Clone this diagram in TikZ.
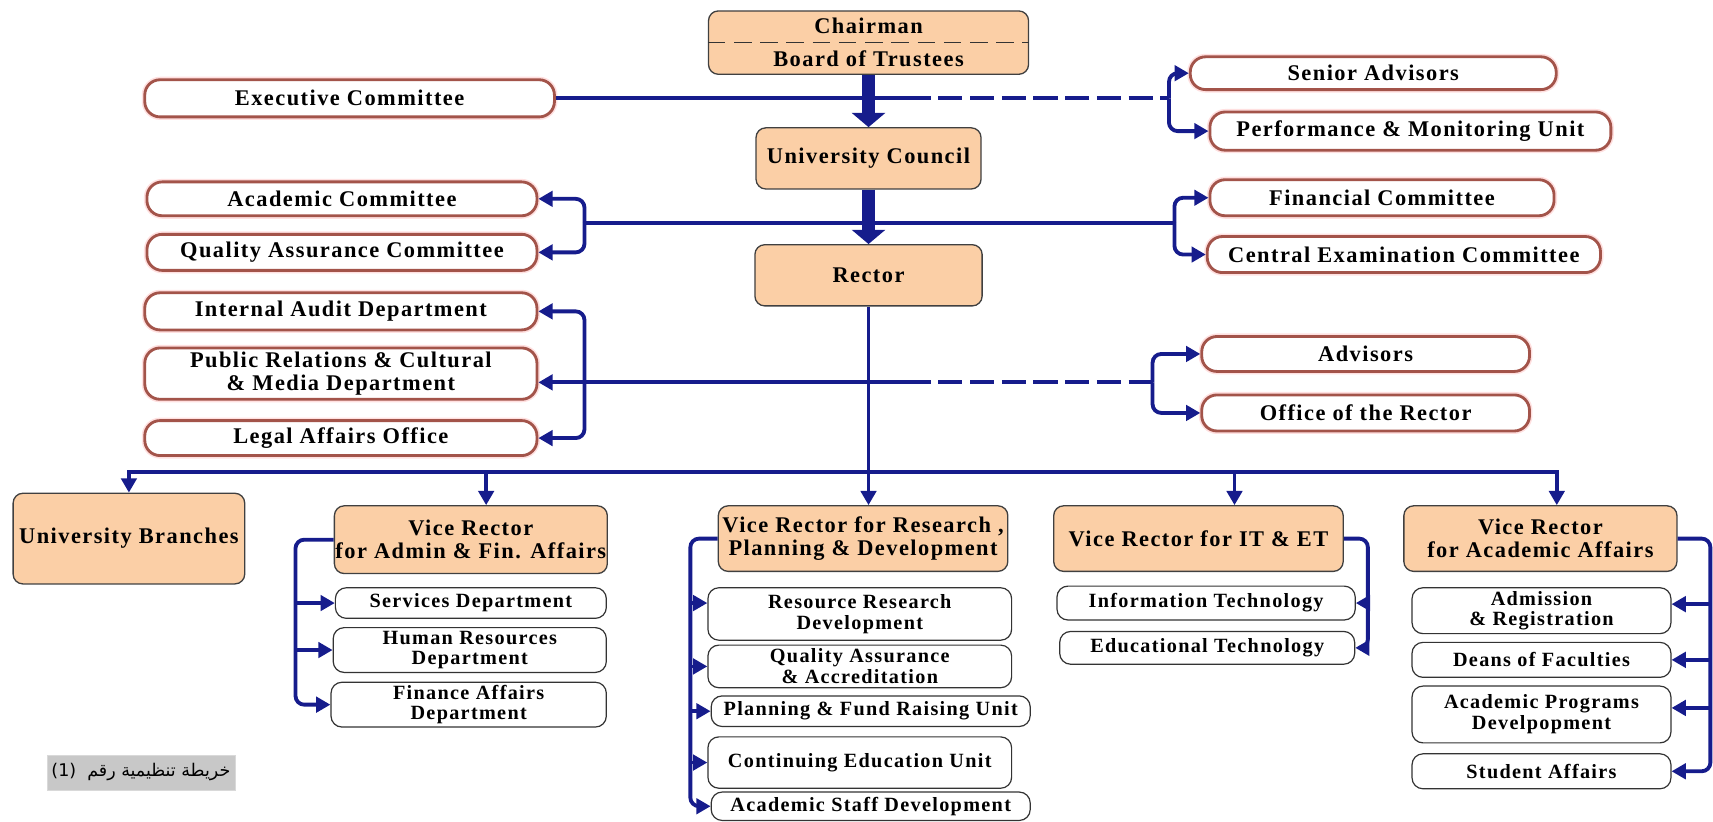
\documentclass[tikz,border=0pt]{standalone}
\usepackage{fontspec}
\setmainfont{Liberation Serif}[LetterSpace=6.5]
\newfontfamily\arabicfont[Script=Arabic]{DejaVu Sans}
\TeXXeTstate=1
\usetikzlibrary{arrows.meta}

\definecolor{peach}{RGB}{251,207,166}
\definecolor{navy}{RGB}{22,28,140}
\definecolor{rust}{RGB}{163,84,74}
\definecolor{tagGray}{RGB}{200,200,200}

\tikzset{
  headbox/.style={draw=black!75, line width=1.2pt, fill=peach, rounded corners=9pt,
    align=center, inner sep=1pt, font=\bfseries\fontsize{20.5}{21}\selectfont},
  pillbox/.style={draw=rust, line width=2.6pt, fill=white, rounded corners=14pt,
    preaction={draw=red!12, line width=5.5pt}, align=center, inner sep=1pt,
    font=\bfseries\fontsize{20.5}{21}\selectfont},
  deptbox/.style={draw=black!80, line width=1.1pt, fill=white, rounded corners=10pt,
    align=center, inner sep=1pt, font=\bfseries\fontsize{18.5}{19}\selectfont},
  link/.style={draw=navy, line width=3.5pt},
  linkdash/.style={link, dash pattern=on 22pt off 7pt},
  arr/.style={link, -{Triangle[width=14pt, length=13pt]}},
  bigarr/.style={draw=navy, line width=12pt, -{Triangle[width=30pt, length=13pt]}},
}

\begin{document}
\begin{tikzpicture}[x=1pt, y=-1pt]
    \useasboundingbox (0,0) rectangle (1568,752);
    %\draw[help lines, step=50] (0,0) grid (1568,752);
    % top of the chart
    \node[headbox, minimum width=293pt, minimum height=58pt] (chair) at (795,39) {Chairman\\[9pt]Board of Trustees};
    \draw[black!80, line width=1.1pt, dash pattern=on 16pt off 8pt] (chair.west) -- (chair.east);
    \node[headbox, minimum width=206pt, minimum height=56pt] (council) at (795,145) {University Council};
    \node[headbox, minimum width=208pt, minimum height=56pt] (rector) at (795,252) {Rector};
    % committees on the left
    \node[pillbox, minimum width=375pt, minimum height=34pt] (exec) at (320,90) {Executive Committee};
    \node[pillbox, minimum width=357pt, minimum height=31pt] (acad) at (313,182) {Academic Committee};
    \node[pillbox, minimum width=357pt, minimum height=33pt] (qac) at (313,231) {Quality Assurance Committee};
    \node[pillbox, minimum width=359pt, minimum height=34pt] (audit) at (312,285) {Internal Audit Department};
    \node[pillbox, minimum width=359pt, minimum height=47pt] (pr) at (312,342) {Public Relations \& Cultural\\\& Media Department};
    \node[pillbox, minimum width=359pt, minimum height=32pt] (legal) at (312,401) {Legal Affairs Office};
    % units on the right
    \node[pillbox, minimum width=335pt, minimum height=30pt] (senior) at (1257,67) {Senior Advisors};
    \node[pillbox, minimum width=367pt, minimum height=35pt] (perf) at (1291,120) {Performance \& Monitoring Unit};
    \node[pillbox, minimum width=315pt, minimum height=33pt] (fin) at (1265,181) {Financial Committee};
    \node[pillbox, minimum width=360pt, minimum height=33pt] (cent) at (1285,233) {Central Examination Committee};
    \node[pillbox, minimum width=300pt, minimum height=32pt] (adv) at (1250,324) {Advisors};
    \node[pillbox, minimum width=300pt, minimum height=33pt] (office) at (1250,378) {Office of the Rector};
    % vice rectors
    \node[headbox, minimum width=212pt, minimum height=83pt] (branches) at (118,493) {University Branches};
    \node[headbox, minimum width=248pt, minimum height=62pt] (vradmin) at (431,494) {Vice Rector\\for Admin \& Fin. Affairs};
    \node[headbox, minimum width=265pt, minimum height=60pt] (vrres) at (790,493) {Vice Rector for Research ,\\Planning \& Development};
    \node[headbox, minimum width=265pt, minimum height=60pt] (vrit) at (1097,493) {Vice Rector for IT \& ET};
    \node[headbox, minimum width=250pt, minimum height=60pt] (vracad) at (1410,493) {Vice Rector\\for Academic Affairs};
    % departments
    \node[deptbox, minimum width=248pt, minimum height=28pt] (serv) at (431,552) {Services Department};
    \node[deptbox, minimum width=250pt, minimum height=41pt] (hr) at (430,595) {Human Resources\\Department};
    \node[deptbox, minimum width=252pt, minimum height=41pt] (finaff) at (429,645) {Finance Affairs\\Department};
    \node[deptbox, minimum width=278pt, minimum height=48pt] (rrd) at (787,562) {Resource Research\\Development};
    \node[deptbox, minimum width=278pt, minimum height=39pt] (qaa) at (787,610) {Quality Assurance\\\& Accreditation};
    \node[deptbox, minimum width=292pt, minimum height=28pt] (pfr) at (797,651) {Planning \& Fund Raising Unit};
    \node[deptbox, minimum width=278pt, minimum height=47pt] (ceu) at (787,698) {Continuing Education Unit};
    \node[deptbox, minimum width=292pt, minimum height=26pt] (asd) at (797,738) {Academic Staff Development};
    \node[deptbox, minimum width=273pt, minimum height=31pt] (it) at (1104,552) {Information Technology};
    \node[deptbox, minimum width=270pt, minimum height=30pt] (et) at (1105,593) {Educational Technology};
    \node[deptbox, minimum width=237pt, minimum height=42pt] (adm) at (1411,559) {Admission\\\& Registration};
    \node[deptbox, minimum width=237pt, minimum height=32pt] (deans) at (1411,604) {Deans of Faculties};
    \node[deptbox, minimum width=237pt, minimum height=52pt] (prog) at (1411,654) {Academic Programs\\Develpopment};
    \node[deptbox, minimum width=237pt, minimum height=32pt] (stud) at (1411,706) {Student Affairs};
    \node[fill=tagGray, draw=black!15, minimum width=172pt, minimum height=32pt, inner sep=2pt,
      font=\arabicfont\fontsize{16}{17}\selectfont] (tag) at (129,707) {\beginR خريطة تنظيمية رقم\ \ \beginL(1)\endL\endR};

    % lines of the board
    \coordinate (tsplit) at (830,90);
    \coordinate (tbr) at (1070,90);
    \draw[link] (exec.east) -- (tsplit);
    \draw[linkdash] (tsplit) -- (tbr);
    \draw[arr, rounded corners=8pt] (tbr) |- (senior.west);
    \draw[arr, rounded corners=8pt] (tbr) |- (perf.west);
    \coordinate (mlb) at (535,204);
    \coordinate (mrb) at (1075,204);
    \draw[link] (mlb) -- (mrb);
    \draw[arr, rounded corners=8pt] (mlb) |- (acad.east);
    \draw[arr, rounded corners=8pt] (mlb) |- (qac.east);
    \draw[arr, rounded corners=8pt] (mrb) |- (fin.west);
    \draw[arr, rounded corners=8pt] (mrb) |- (cent.west);
    \draw[bigarr] (chair.south) -- (council.north);
    \draw[bigarr] (council.south) -- (rector.north);
    % lines of the rector
    \coordinate (llb) at (535,350);
    \coordinate (lsplit) at (830,350);
    \coordinate (lrb) at (1055,350);
    \draw[link] (llb) -- (lsplit);
    \draw[linkdash] (lsplit) -- (lrb);
    \draw[arr, rounded corners=8pt] (llb) |- (audit.east);
    \draw[arr, rounded corners=8pt] (llb) |- (legal.east);
    \draw[arr] (llb) -- (llb -| pr.east);
    \draw[arr, rounded corners=8pt] (lrb) |- (adv.west);
    \draw[arr, rounded corners=8pt] (lrb) |- (office.west);
    \coordinate (bus) at (795,432);
    \draw[arr] (rector.south) -- (rector.south |- vrres.north);
    \draw[arr] (bus) -| (branches.north);
    \draw[arr] (bus) -| ([xshift=15pt]vracad.north);
    \draw[arr] ([xshift=14pt]vradmin.north |- bus) -- ([xshift=14pt]vradmin.north);
    \draw[arr] ([xshift=33pt]vrit.north |- bus) -- ([xshift=33pt]vrit.north);
    % admin and finance
    \coordinate (abr) at ([xshift=-35pt]vradmin.west);
    \draw[arr, rounded corners=8pt] (vradmin.west) -- (abr) |- (finaff.west);
    \draw[arr] (abr |- serv.west) -- (serv.west);
    \draw[arr] (abr |- hr.west) -- (hr.west);
    % research, planning and development
    \coordinate (rbr) at ([xshift=-25pt]vrres.west);
    \draw[arr, rounded corners=8pt] (vrres.west) -- (rbr) |- (asd.west);
    \draw[arr] ([yshift=10pt]rbr |- rrd.west) -- ([yshift=10pt]rrd.west);
    \draw[arr] (rbr |- qaa.west) -- (qaa.west);
    \draw[arr] (rbr |- pfr.west) -- (pfr.west);
    \draw[arr] (rbr |- ceu.west) -- (ceu.west);
    % IT and ET
    \coordinate (ibr) at ([xshift=22pt]vrit.east);
    \draw[arr, rounded corners=8pt] (vrit.east) -- (ibr) |- (et.east);
    \draw[arr] (ibr |- it.east) -- (it.east);
    % academic affairs
    \coordinate (cbr) at ([xshift=30pt]vracad.east);
    \draw[arr, rounded corners=8pt] (vracad.east) -- (cbr) |- (stud.east);
    \draw[arr] ([yshift=6pt]cbr |- adm.east) -- ([yshift=6pt]adm.east);
    \draw[arr] (cbr |- deans.east) -- (deans.east);
    \draw[arr] ([yshift=6pt]cbr |- prog.east) -- ([yshift=6pt]prog.east);
\end{tikzpicture}
\end{document}
